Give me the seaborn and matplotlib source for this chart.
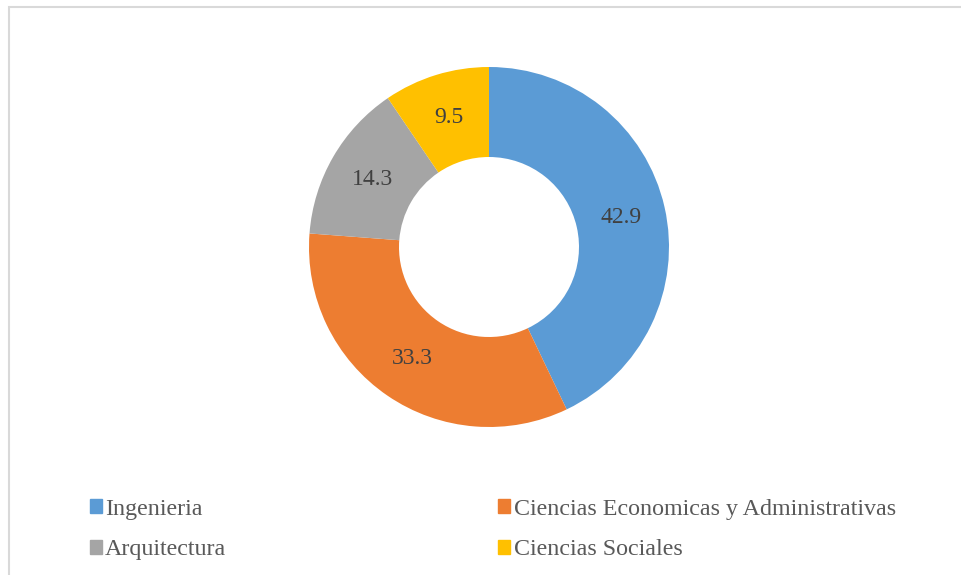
import matplotlib
matplotlib.use("Agg")
import matplotlib.pyplot as plt
import matplotlib.patches as mpatches
import seaborn as sns

# --- data ---
categories = ["Ingenieria", "Ciencias Economicas y Administrativas", "Arquitectura", "Ciencias Sociales"]
values = [42.9, 33.3, 14.3, 9.5]
colors = ["#5B9BD5", "#ED7D31", "#A5A5A5", "#FFC000"]

sns.set_theme(style="white")
plt.rcParams["font.family"] = ["Liberation Serif", "DejaVu Serif"]

W, H = 962, 575
fig = plt.figure(figsize=(W / 100, H / 100), dpi=100)
fig.patch.set_facecolor("white")

# chart frame (light gray border, runs off the right/bottom edge)
fig.add_artist(mpatches.Rectangle((9 / W, -0.05), 1.0, 1 - 7 / H + 0.05,
                                  transform=fig.transFigure, fill=False,
                                  edgecolor="#D9D9D9", linewidth=1.5))

# donut axes: centre (489, 247) px, outer radius 180 px
cx, cy, r = 489, H - 247, 180
ax = fig.add_axes([(cx - r) / W, (cy - r) / H, 2 * r / W, 2 * r / H])
wedges, _, autotexts = ax.pie(
    values, colors=colors, startangle=90, counterclock=False, radius=1.0,
    wedgeprops=dict(width=0.5, linewidth=0), autopct="%.1f", pctdistance=0.75,
    textprops=dict(fontsize=17, color="#404040"))
ax.set_xlim(-1, 1)
ax.set_ylim(-1, 1)
ax.set_aspect("equal")
ax.axis("off")

# legend, filled column-wise: left column Ingenieria / Arquitectura
order = [0, 2, 1, 3]
handles = [mpatches.Patch(color=colors[i]) for i in order]
labels = [categories[i] for i in order]
fig.legend(handles, labels, ncol=2, loc="upper left",
           bbox_to_anchor=(68 / W, 1 - 477 / H), frameon=False,
           fontsize=17.3, labelcolor="#595959", handlelength=0.5,
           handleheight=0.5, handletextpad=0.15, columnspacing=11.3,
           labelspacing=0.82)

fig.savefig("out.png", dpi=100)
